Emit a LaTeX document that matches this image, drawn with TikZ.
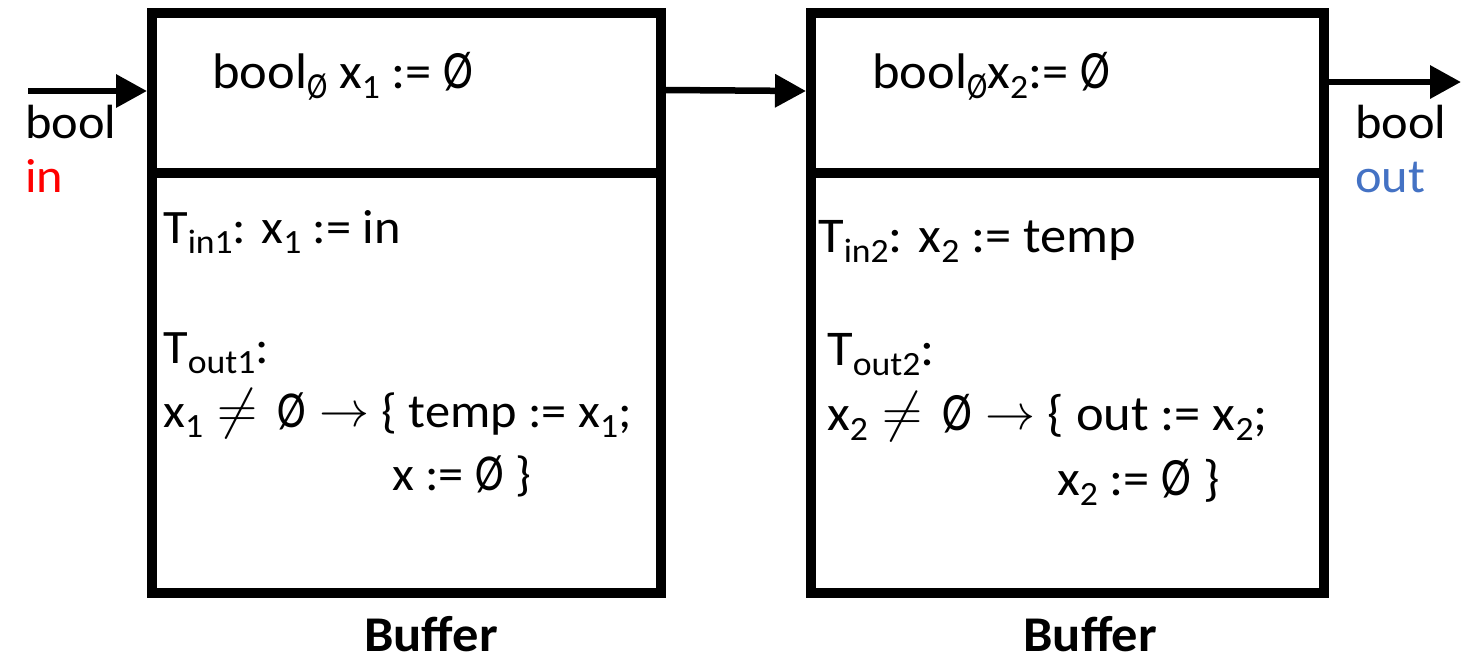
\documentclass[tikz,border=0pt]{standalone}
\usepackage{fontspec}
\setmainfont{Carlito}[FakeStretch=1.05]
\usetikzlibrary{arrows.meta}
\definecolor{outblue}{HTML}{4472C4}
\newcommand{\lsub}[1]{\raisebox{-10pt}{\fontsize{34}{34}\selectfont #1}}
\newcommand{\es}{\scalebox{0.85}[1.08]{Ø}}
\newcommand{\nq}{\hspace{14pt}\resizebox{40pt}{!}{$\neq$}\hspace{20pt}}
\newcommand{\ra}{\hspace{14pt}\raisebox{1pt}{\resizebox{50pt}{!}{$\rightarrow$}}\hspace{12pt}}
\tikzset{
  part/.style={draw, line width=10pt, inner sep=0pt, outer sep=0pt},
  txt/.style={anchor=base west, inner sep=0pt, font=\fontsize{48}{52}\selectfont},
  txtb/.style={txt, font=\fontsize{50}{54}\selectfont},
  lbl/.style={anchor=base, inner sep=0pt, text depth=0pt, font=\fontsize{50}{54}\selectfont\bfseries},
  arr/.style={line width=6.5pt, -{Triangle[length=31pt,width=32pt]}}
}
\begin{document}
\begin{tikzpicture}[x=1pt,y=-1pt]
\useasboundingbox (0,0) rectangle (1461,657);
% box 1
\node[part, minimum width=509pt, minimum height=160pt] (h1) at (406.5,93) {};
\node[part, minimum width=509pt, minimum height=420pt] (b1) at (406.5,383) {};
% box 2
\node[part, minimum width=513pt, minimum height=160pt] (h2) at (1067.5,93) {};
\node[part, minimum width=513pt, minimum height=420pt] (b2) at (1067.5,383) {};
% connectors
\coordinate (inS) at (28,91);
\coordinate (outE) at (1461,82);
\draw[arr] (inS) -- ([yshift=2pt,xshift=-5pt]h1.west);
\draw[arr] ([yshift=3pt,xshift=5pt]h1.east) -- ([yshift=2pt,xshift=-5pt]h2.west);
\draw[arr] ([yshift=11pt,xshift=5pt]h2.east) -- (outE);
% side labels
\node[txt] (bin) at (25,138) {bool};
\node[txt, text=red] (in) at (25,192) {in};
\node[txt] (bout) at (1355,138) {bool};
\node[txt, text=outblue] (out) at (1355,192) {out};
% box 1 texts
\node[txtb] (d1) at (212,88) {bool\lsub{\es} x\lsub{1} := \es};
\node[txt] (ti1) at (163,243) {T\lsub{in1}: x\lsub{1} := in};
\node[txt] (to1) at (163,363) {T\lsub{out1}:};
\node[txt] (g1) at (163,427) {x\lsub{1}\nq\es\ra\{ temp := x\lsub{1};};
\node[txt] (a1) at (392,490) {x := \es{} \}};
% box 2 texts
\node[txtb] (d2) at (872,88) {bool\lsub{\es}x\lsub{2}:= \es};
\node[txtb] (ti2) at (818,252) {T\lsub{in2}: x\lsub{2} := temp};
\node[txtb] (to2) at (827,365) {T\lsub{out2}:};
\node[txtb] (g2) at (827,430) {x\lsub{2}\nq\es\ra\{ out := x\lsub{2};};
\node[txtb] (a2) at (1057,495) {x\lsub{2} := \es{} \}};
% captions
\node[lbl] (c1) at (431,651) {Buffer};
\node[lbl] (c2) at (1090,651) {Buffer};
\end{tikzpicture}
\end{document}
